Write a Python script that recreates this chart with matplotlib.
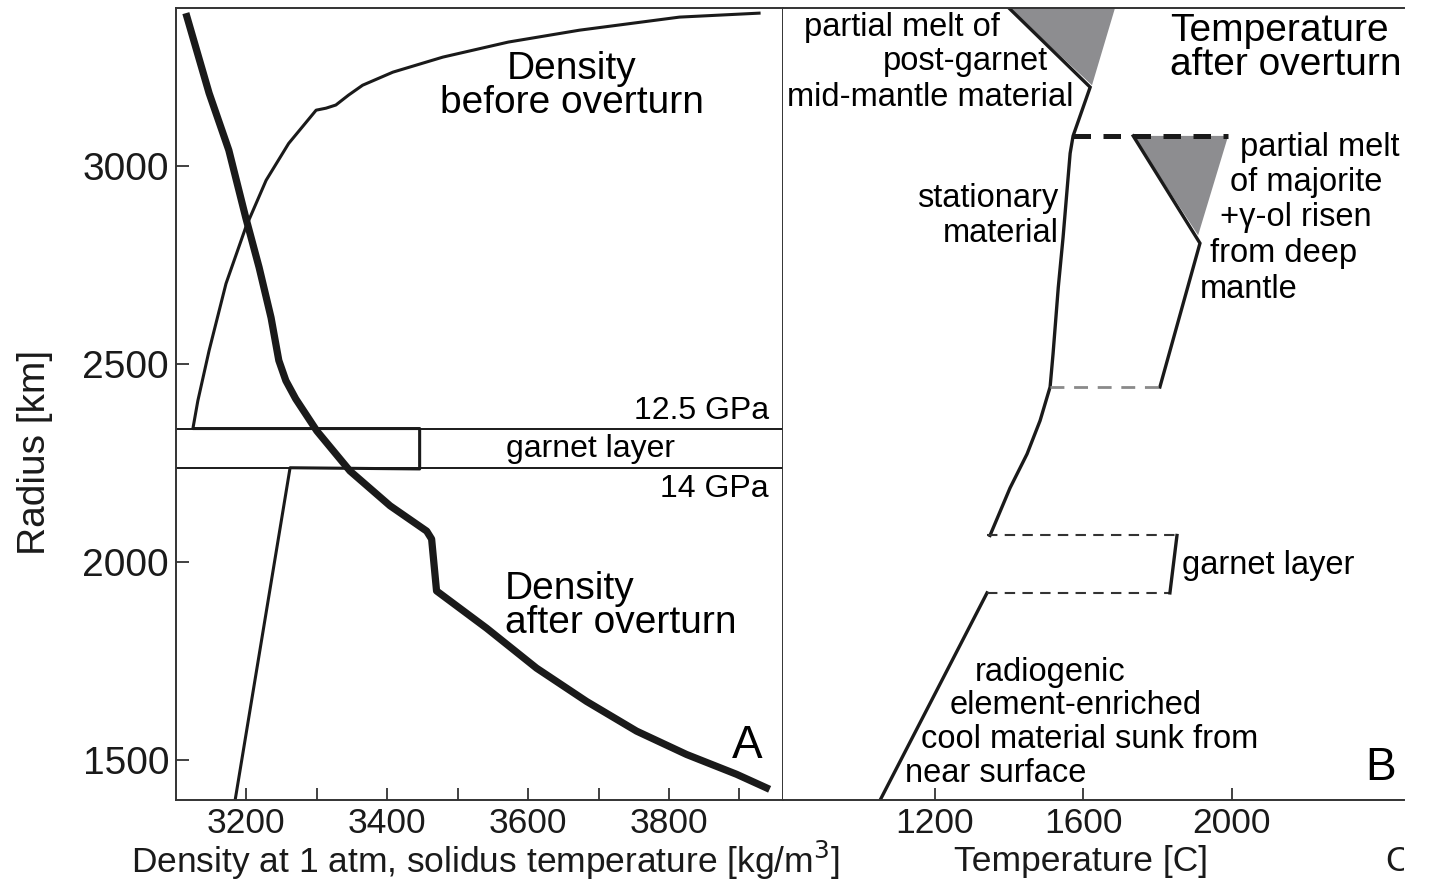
import matplotlib
matplotlib.use("Agg")
import matplotlib.pyplot as plt
from matplotlib.ticker import FixedLocator, FuncFormatter
from matplotlib.transforms import Bbox, TransformedBbox

plt.rcParams['font.family'] = ['Liberation Sans', 'DejaVu Sans']

# Panel A: density profiles (kg/m^3) against radius (km)
before_rho = [3184, 3262, 3446, 3446, 3124, 3131, 3147, 3171, 3199, 3228, 3260, 3299, 3313, 3327,
              3345, 3365, 3408, 3479, 3572, 3673, 3815, 3928]
before_r = [1400, 2239, 2236, 2338, 2338, 2408, 2535, 2704, 2846, 2965, 3058, 3142, 3147, 3155,
            3180, 3205, 3238, 3276, 3314, 3344, 3377, 3387]

after_rho = [3114, 3147, 3175, 3199, 3218, 3235, 3246, 3256, 3270, 3300, 3347, 3404, 3456, 3463,
             3470, 3541, 3612, 3683, 3754, 3825, 3896, 3943]
after_r = [3387, 3185, 3041, 2871, 2745, 2618, 2510, 2459, 2413, 2332, 2231, 2143, 2079, 2059,
           1928, 1834, 1733, 1649, 1574, 1515, 1465, 1427]

# pressure boundaries of the garnet layer (radius, km)
p_12_5 = 2338
p_14 = 2239

# Panel B: temperature (C) against radius (km)
sunk_t = [1053, 1341]
sunk_r = [1400, 1923]

stat_t = [1349, 1403, 1449, 1484, 1511, 1519, 1533, 1546, 1565, 1573, 1619, 1400]
stat_r = [2068, 2188, 2274, 2358, 2443, 2527, 2694, 2821, 3033, 3077, 3200, 3400]

risen_t = [1807, 1915, 1735]
risen_r = [2443, 2806, 3077]

melt_top_t = [1400, 1686, 1624]
melt_top_r = [3400, 3400, 3205]
melt_low_t = [1735, 1991, 1910]
melt_low_r = [3077, 3077, 2826]

garnet_b_t = [1341, 1834, 1853]   # left end, bracket bottom, bracket top
garnet_b_r = [1923, 2068]
melt_front_r = 3077
melt_front_t = [1573, 1991]
mid_gap_t = [1511, 1807]
mid_gap_r = 2443

fig = plt.figure(figsize=(14.3, 8.82), dpi=100)
axA = fig.add_axes([176 / 1430, 1 - 800 / 882, (783 - 176) / 1430, 792 / 882])
axB = fig.add_axes([783 / 1430, 1 - 800 / 882, (1404 - 783) / 1430, 792 / 882])

for ax in (axA, axB):
    ax.set_ylim(1400, 3400)
    for sp in ax.spines.values():
        sp.set_linewidth(1.4)
        sp.set_color('#333333')
    ax.tick_params(direction='in', length=9, width=1.3, colors='#333333',
                   labelcolor='#1a1a1a', labelsize=25.5, pad=5)

# ---- panel A ----
axA.set_xlim(3100, 3962)
axA.plot(before_rho, before_r, color='#1a1a1a', lw=2.2, solid_joinstyle='round')
axA.plot(after_rho, after_r, color='#1a1a1a', lw=5.2, solid_joinstyle='round', solid_capstyle='butt')
axA.axhline(p_12_5, color='#1a1a1a', lw=1.4)
axA.axhline(p_14, color='#1a1a1a', lw=1.4)

axA.xaxis.set_major_locator(FixedLocator([3200, 3300, 3400, 3500, 3600, 3700, 3800, 3900]))
axA.xaxis.set_major_formatter(FuncFormatter(lambda v, p: f"{v:.0f}" if int(v) % 200 == 0 else ""))
axA.yaxis.set_major_locator(FixedLocator([1500, 2000, 2500, 3000]))
axA.tick_params(axis='y', labelsize=28, pad=5)

fig.text(485 / 1430, 1 - 873 / 882, "Density at 1 atm, solidus temperature [kg/m$^3$]",
         fontsize=25.5, ha='center', va='baseline', color='#1a1a1a')
fig.text(35 / 1430, 1 - 452 / 882, "Radius [km]", fontsize=28, rotation=90,
         ha='center', va='center', color='#1a1a1a')

axA.text(3662, 3203, "Density\nbefore overturn", fontsize=28, ha='center', va='center', linespacing=0.93)
axA.text(3567, 1890, "Density\nafter overturn", fontsize=28, ha='left', va='center', linespacing=0.93)
axA.text(3942, 2383, "12.5 GPa", fontsize=23, ha='right', va='center')
axA.text(3689, 2287, "garnet layer", fontsize=23, ha='center', va='center')
axA.text(3942, 2186, "14 GPa", fontsize=23, ha='right', va='center')
axA.text(3911, 1536, "A", fontsize=33, ha='center', va='center')

# ---- panel B ----
axB.set_xlim(791, 2465)
axB.spines['right'].set_visible(False)
axB.spines['left'].set_visible(False)
axB.xaxis.set_major_locator(FixedLocator([1200, 1600, 2000]))
axB.set_yticks([])
fig.text(1081 / 1430, 1 - 871 / 882, "Temperature [C]", fontsize=25.5,
         ha='center', va='baseline', color='#1a1a1a')

axB.fill(melt_top_t, melt_top_r, color='#8d8d90', lw=0)
axB.fill(melt_low_t, melt_low_r, color='#8d8d90', lw=0)
axB.plot(sunk_t, sunk_r, color='#1a1a1a', lw=2.4)
axB.plot(stat_t, stat_r, color='#1a1a1a', lw=2.4, solid_joinstyle='miter')
axB.plot(risen_t, risen_r, color='#1a1a1a', lw=2.4, solid_joinstyle='miter')

# garnet layer bracket and its dashed bounds
axB.plot([garnet_b_t[0], garnet_b_t[1]], [garnet_b_r[0], garnet_b_r[0]], color='#333333', lw=1.5, dashes=(5, 3.5))
axB.plot([garnet_b_t[0], garnet_b_t[2]], [garnet_b_r[1], garnet_b_r[1]], color='#333333', lw=1.5, dashes=(5, 3.5))
axB.plot([garnet_b_t[1], garnet_b_t[2]], garnet_b_r, color='#1a1a1a', lw=2.4)
axB.plot(mid_gap_t, [mid_gap_r, mid_gap_r], color='#8a8a8a', lw=2.0, dashes=(5, 3.5))
axB.plot(melt_front_t, [melt_front_r, melt_front_r], color='#1a1a1a', lw=3.6, dashes=(3.5, 2.5))

axB.text(1376, 3352, "partial melt of", fontsize=23.5, ha='right', va='center')
axB.text(1506, 3266, "post-garnet", fontsize=23.5, ha='right', va='center')
axB.text(1573, 3175, "mid-mantle material", fontsize=23.5, ha='right', va='center')
axB.text(1834, 3298, "Temperature\nafter overturn", fontsize=28, ha='left', va='center', linespacing=0.93)
for label, t, r in [("partial melt", 2023, 3048), ("of majorite", 1996, 2960),
                    ("+\u03b3-ol risen", 1969, 2871), ("from deep", 1942, 2780),
                    ("mantle", 1915, 2689)]:
    axB.text(t, r, label, fontsize=23.5, ha='left', va='center')
axB.text(1533, 2919, "stationary", fontsize=23.5, ha='right', va='center')
axB.text(1533, 2831, "material", fontsize=23.5, ha='right', va='center')
axB.text(1867, 1991, "garnet layer", fontsize=23.5, ha='left', va='center')
for label, t, r in [("radiogenic", 1309, 1723), ("element-enriched", 1239, 1639),
                    ("cool material sunk from", 1163, 1553), ("near surface", 1120, 1467)]:
    axB.text(t, r, label, fontsize=23.5, ha='left', va='center')
axB.text(2360, 1480, "B", fontsize=33, ha='left', va='center')

# next panel's axis label, cut at the plot edge
c = fig.text(1385 / 1430, 1 - 871 / 882, "C", fontsize=25.5, ha='left', va='baseline', color='#1a1a1a')
c.set_clip_box(TransformedBbox(Bbox([[0, 0], [1404 / 1430, 1]]), fig.transFigure))
c.set_clip_on(True)

plt.savefig("out.png", dpi=100)
